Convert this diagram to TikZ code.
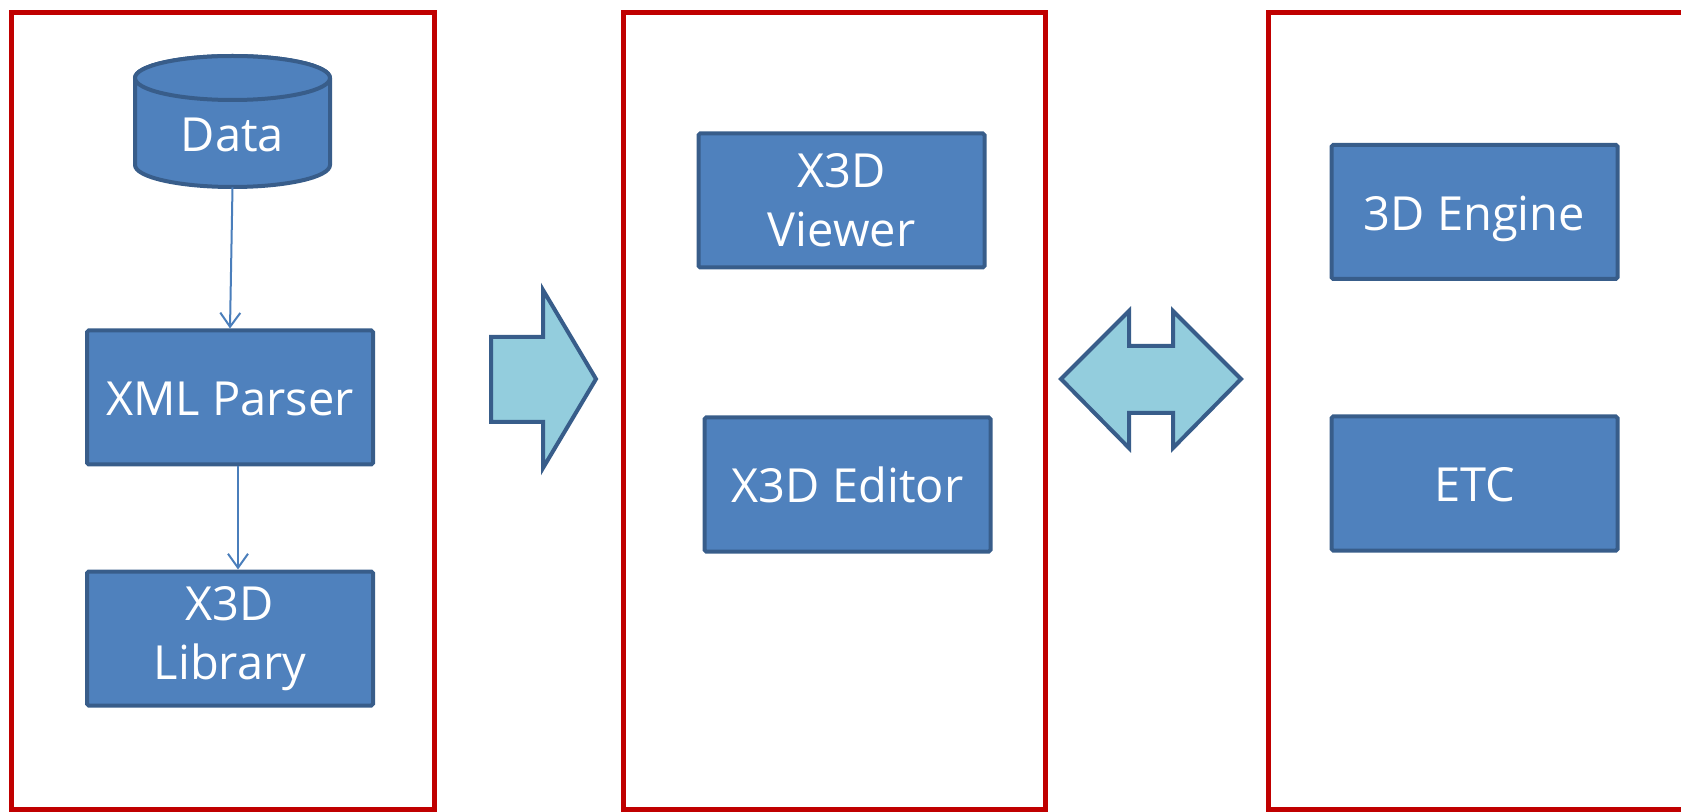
\documentclass[tikz,border=0pt]{standalone}
\usepackage{fontspec}
\setmainfont{Open Sans}
\usetikzlibrary{arrows.meta}
\definecolor{boxfill}{HTML}{4F81BD}
\definecolor{boxline}{HTML}{385D8A}
\definecolor{conn}{HTML}{4A7EBB}
\definecolor{arrfill}{HTML}{93CDDD}
\definecolor{framered}{HTML}{C00000}
\begin{document}
\begin{tikzpicture}[x=0.5pt,y=-0.5pt,
  panel/.style={draw=framered, line width=2.5pt},
  blk/.style={draw=boxline, fill=boxfill, line width=2pt, text=white,
    font=\fontsize{23.5}{29.5}\selectfont, align=center,
    minimum width=143pt, minimum height=67pt, inner sep=0pt, rounded corners=0.8pt},
  oneline/.style={text height=20pt, text depth=1.6pt},
  cyl/.style={draw=boxline, fill=boxfill, line width=2pt},
  bigarrow/.style={draw=boxline, fill=arrfill, line width=2pt, line join=miter},
  conline/.style={draw=conn, line width=1pt, -{Straight Barb[length=7pt,width=10pt,line width=1pt]}}
]
\clip (0,0) rectangle (1681,812);
% panels
\draw[panel] (11.5,12.5) rectangle (434.5,809);
\draw[panel] (623,12.5) rectangle (1045,809);
\draw[panel] (1268,12.5) rectangle (1720,809);
% cylinder
\path[cyl] (135,78) -- (135,165) arc[start angle=180,end angle=0,x radius=97.5,y radius=22]
  -- (330,78) arc[start angle=0,end angle=-180,x radius=97.5,y radius=22] -- cycle;
\path[cyl] (232.5,78) ellipse [x radius=97.5, y radius=22];
\node[text=white, font=\fontsize{23.5}{29.5}\selectfont, minimum width=97.5pt, minimum height=65.5pt,
  inner sep=0pt, text height=30pt, text depth=0.2pt] (data) at (232.5,121.5) {Data};
% boxes
\node[blk, oneline] (xml) at (230,397.5) {XML Parser};
\node[blk] (lib) at (230,638.5) {X3D\\Library};
\node[blk] (viewer) at (841.5,200.5) {X3D\\Viewer};
\node[blk, oneline] (editor) at (847.5,484.5) {X3D Editor};
\node[blk, oneline] (engine) at (1474.5,212) {3D Engine};
\node[blk, oneline] (etc) at (1474.5,483.5) {ETC};
% connectors
\draw[conline] (data.south) -- (xml.north);
\draw[conline] ([xshift=4pt]xml.south) -- ([xshift=4pt]lib.north);
% block arrows
\path[bigarrow] (491,337) -- (543,337) -- (543,290) -- (596,379) -- (543,468) -- (543,422) -- (491,422) -- cycle;
\path[bigarrow] (1061,379) -- (1129,311) -- (1129,346) -- (1173,346) -- (1173,311) -- (1241,379)
  -- (1173,448) -- (1173,413) -- (1129,413) -- (1129,448) -- cycle;
\end{tikzpicture}
\end{document}
